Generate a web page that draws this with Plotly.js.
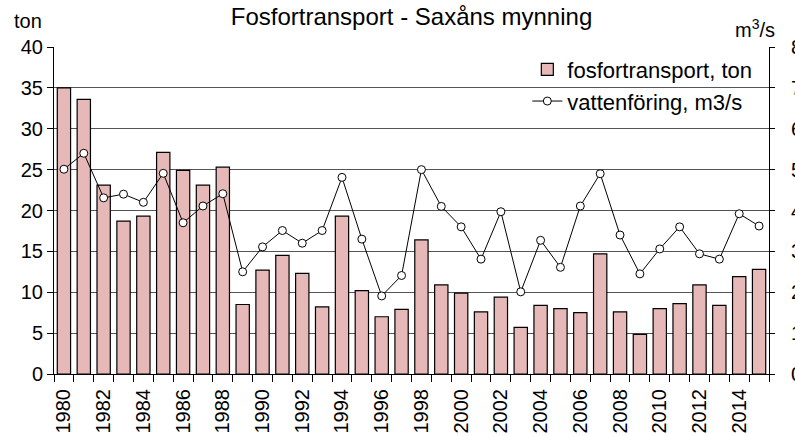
<!DOCTYPE html>
<html>
<head>
<meta charset="utf-8">
<script src="https://cdn.plot.ly/plotly-3.0.1.min.js"></script>
<style>html,body{margin:0;padding:0;background:#fff;}#chart{width:795px;height:436px;}</style>
</head>
<body>
<div id="chart"></div>
<script>
const years = [1980,1981,1982,1983,1984,1985,1986,1987,1988,1989,1990,1991,1992,1993,1994,1995,1996,1997,1998,1999,2000,2001,2002,2003,2004,2005,2006,2007,2008,2009,2010,2011,2012,2013,2014,2015];
const fosfortransport = [35.0,33.6,23.1,18.7,19.3,27.1,24.9,23.1,25.3,8.5,12.7,14.5,12.3,8.2,19.3,10.2,7.0,7.9,16.4,10.9,9.9,7.6,9.4,5.7,8.4,8.0,7.5,14.7,7.6,4.85,8.0,8.6,10.9,8.4,11.9,12.8];
const vattenforing = [5.01,5.40,4.31,4.40,4.20,4.91,3.70,4.11,4.41,2.50,3.11,3.51,3.20,3.51,4.81,3.30,1.91,2.41,5.00,4.10,3.60,2.81,3.97,2.01,3.27,2.61,4.11,4.90,3.40,2.45,3.06,3.60,2.94,2.81,3.92,3.62];
const yearLabels = years.filter(function (y) { return y % 2 === 0; });

const FONT = 'Arial, "Liberation Sans", sans-serif';
const boundaries = years.map(function (y) { return y - 0.5; }).concat([years[years.length - 1] + 0.5]);
const xRange = [years[0] - 0.5, years[years.length - 1] + 0.5];

const traces = [
  {
    type: 'bar', x: years, y: fosfortransport, name: 'fosfortransport, ton',
    marker: {color: '#E6B9B8', line: {color: '#000000', width: 1.2}},
    yaxis: 'y', hoverinfo: 'x+y'
  },
  {
    type: 'scatter', mode: 'lines+markers', x: years, y: vattenforing, name: 'vattenföring, m3/s',
    line: {color: '#000000', width: 1},
    marker: {symbol: 'circle', size: 8, color: '#ffffff', line: {color: '#000000', width: 1}},
    yaxis: 'y2'
  },
  {
    // invisible helper so the label axis (x2) is drawn
    type: 'scatter', mode: 'markers', x: years, y: fosfortransport,
    xaxis: 'x2', yaxis: 'y', marker: {opacity: 0, size: 1},
    showlegend: false, hoverinfo: 'skip'
  }
];

const layout = {
  width: 795, height: 436,
  margin: {l: 54, r: 26, t: 47, b: 62},
  paper_bgcolor: '#ffffff', plot_bgcolor: '#ffffff',
  font: {family: FONT, size: 20, color: '#000'},
  bargap: 0.33,
  showlegend: true,
  title: {text: 'Fosfortransport - Saxåns mynning', x: 0.5, xref: 'paper', xanchor: 'center', y: 0.961, yanchor: 'middle', font: {family: FONT, size: 24, color: '#000'}},
  legend: {x: 0.662, xanchor: 'left', y: 0.995, yanchor: 'top', bgcolor: 'rgba(0,0,0,0)', font: {family: FONT, size: 22, color: '#000'}, traceorder: 'normal'},
  xaxis: {
    range: xRange, tickmode: 'array', tickvals: boundaries, showticklabels: false,
    ticks: 'outside', ticklen: 7, tickcolor: '#000', tickwidth: 1,
    showgrid: false, zeroline: false,
    showline: true, linecolor: '#000', linewidth: 1
  },
  xaxis2: {
    overlaying: 'x', anchor: 'y', side: 'bottom', range: xRange,
    tickmode: 'array', tickvals: yearLabels, ticktext: yearLabels.map(String),
    tickangle: -90, ticks: '', showgrid: false, zeroline: false, showline: false,
    tickfont: {family: FONT, size: 20, color: '#000'},
    ticklabelstandoff: 10
  },
  yaxis: {
    range: [0, 40], tickmode: 'linear', tick0: 0, dtick: 5,
    showgrid: true, gridcolor: '#555555', gridwidth: 1.2, zeroline: false,
    showline: true, linecolor: '#000', linewidth: 1,
    ticks: 'outside', ticklen: 6, tickcolor: '#000',
    tickfont: {family: FONT, size: 20, color: '#000'}
  },
  yaxis2: {
    range: [0, 8], tickmode: 'linear', tick0: 0, dtick: 1,
    overlaying: 'y', side: 'right', showgrid: false, zeroline: false,
    showline: true, linecolor: '#000', linewidth: 1,
    ticks: 'outside', ticklen: 5, tickcolor: '#000',
    ticklabelstandoff: 12,
    tickfont: {family: FONT, size: 20, color: '#000'}
  },
  annotations: [
    {text: 'ton', xref: 'paper', yref: 'paper', x: -0.0587, y: 1.079, xanchor: 'left', yanchor: 'middle', showarrow: false, font: {family: FONT, size: 20, color: '#000'}},
    {text: 'm<sup>3</sup>/s', xref: 'paper', yref: 'paper', x: 1.011, y: 1.057, xanchor: 'right', yanchor: 'middle', showarrow: false, font: {family: FONT, size: 20, color: '#000'}}
  ]
};

Plotly.newPlot('chart', traces, layout, {displayModeBar: false, staticPlot: true});
</script>
</body>
</html>
